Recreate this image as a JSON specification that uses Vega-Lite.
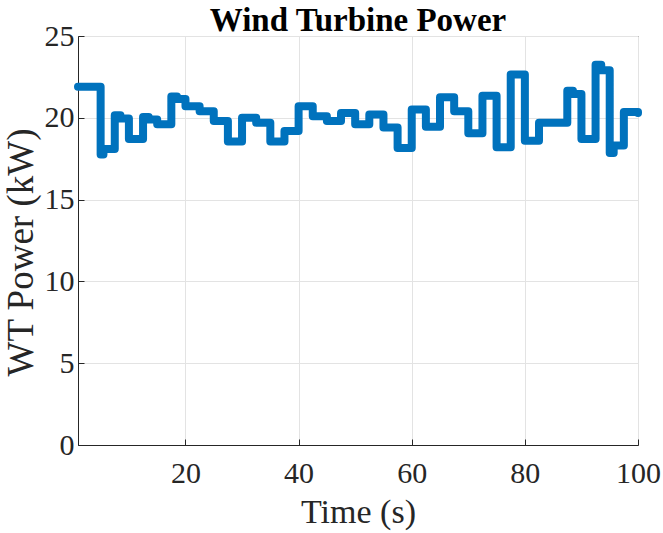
{
  "$schema": "https://vega.github.io/schema/vega-lite/v6.json",
  "width": 560,
  "height": 409,
  "autosize": {"type": "none"},
  "padding": {"left": 78, "top": 36, "right": 25, "bottom": 88},
  "background": "white",
  "title": {
    "text": "Wind Turbine Power",
    "font": "Liberation Serif",
    "fontSize": 33,
    "fontWeight": "bold",
    "color": "#000000",
    "anchor": "middle",
    "offset": -17
  },
  "data": {
    "values": [
      {"t": 1, "p": 21.9},
      {"t": 5, "p": 17.75},
      {"t": 5.5, "p": 18.1},
      {"t": 7.5, "p": 20.15},
      {"t": 8.5, "p": 19.95},
      {"t": 10, "p": 18.7},
      {"t": 12.5, "p": 20.05},
      {"t": 13.5, "p": 19.9},
      {"t": 15, "p": 19.6},
      {"t": 17.5, "p": 21.3},
      {"t": 18.5, "p": 21.15},
      {"t": 20, "p": 20.7},
      {"t": 22.5, "p": 20.4},
      {"t": 25, "p": 19.8},
      {"t": 27.5, "p": 18.55},
      {"t": 30, "p": 20.0},
      {"t": 32.5, "p": 19.7},
      {"t": 35, "p": 18.55},
      {"t": 37.5, "p": 19.2},
      {"t": 40, "p": 20.7},
      {"t": 42.5, "p": 20.1},
      {"t": 45, "p": 19.8},
      {"t": 47.5, "p": 20.3},
      {"t": 50, "p": 19.6},
      {"t": 52.5, "p": 20.2},
      {"t": 55, "p": 19.4},
      {"t": 57.5, "p": 18.15},
      {"t": 60, "p": 20.5},
      {"t": 62.5, "p": 19.45},
      {"t": 65, "p": 21.25},
      {"t": 67.5, "p": 20.4},
      {"t": 70, "p": 19.05},
      {"t": 72.5, "p": 21.35},
      {"t": 75, "p": 18.2},
      {"t": 77.5, "p": 22.65},
      {"t": 80, "p": 18.6},
      {"t": 82.5, "p": 19.7},
      {"t": 87.5, "p": 21.65},
      {"t": 88.5, "p": 21.45},
      {"t": 90, "p": 18.7},
      {"t": 92.5, "p": 23.25},
      {"t": 93.5, "p": 22.9},
      {"t": 95, "p": 17.85},
      {"t": 95.7, "p": 18.3},
      {"t": 97.5, "p": 20.35},
      {"t": 100, "p": 20.3}
    ]
  },
  "mark": {
    "type": "line",
    "interpolate": "step-after",
    "color": "#0072BD",
    "strokeWidth": 8,
    "strokeJoin": "round",
    "strokeCap": "round",
    "clip": false
  },
  "encoding": {
    "x": {
      "field": "t",
      "type": "quantitative",
      "scale": {"domain": [1, 100], "nice": false, "zero": false},
      "axis": {
        "title": "Time (s)",
        "values": [20, 40, 60, 80, 100],
        "titleFontSize": 34,
        "labelPadding": 19,
        "titlePadding": 7
      }
    },
    "y": {
      "field": "p",
      "type": "quantitative",
      "scale": {"domain": [0, 25], "nice": false},
      "axis": {
        "title": "WT Power (kW)",
        "values": [0, 5, 10, 15, 20, 25],
        "titleFontSize": 37,
        "titleAngle": 270,
        "titleBaseline": "alphabetic",
        "titleAlign": "center",
        "titleX": -46,
        "titleY": 216,
        "labelPadding": 10
      }
    }
  },
  "config": {
    "view": {"stroke": "#262626", "strokeWidth": 1},
    "axis": {
      "labelFont": "Liberation Serif",
      "titleFont": "Liberation Serif",
      "labelFontSize": 30,
      "labelColor": "#262626",
      "titleColor": "#262626",
      "titleFontWeight": "normal",
      "domainColor": "#262626",
      "tickColor": "#262626",
      "tickSize": -6,
      "gridColor": "#e3e3e3",
      "gridWidth": 1,
      "labelFlush": false
    }
  }
}
